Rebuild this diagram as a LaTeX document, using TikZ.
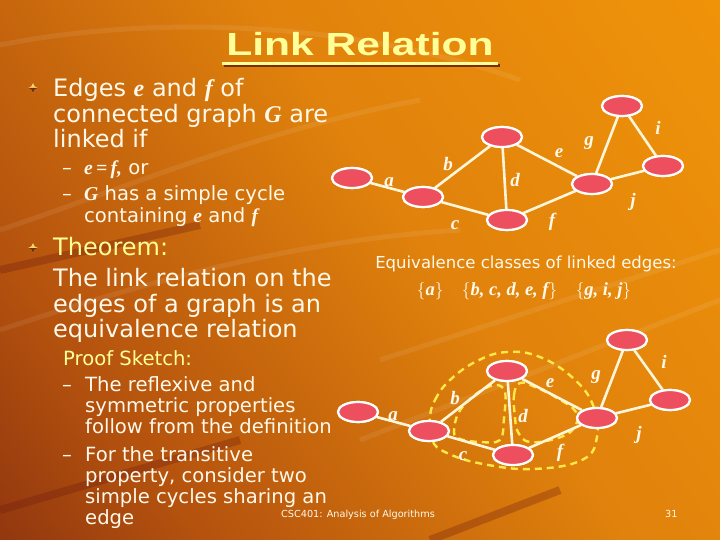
\documentclass[tikz,border=0pt]{standalone}
\usepackage{fontspec}
\usepackage{graphicx}
\setmainfont{DejaVu Sans}
\newfontfamily\mifont{Liberation Serif}
\newfontfamily\titlefont{Liberation Sans}
\usetikzlibrary{shapes.geometric}
\definecolor{txt}{HTML}{FFF9EA}
\definecolor{ylw}{HTML}{FFFF99}
\definecolor{nodered}{HTML}{EE4F5E}
\definecolor{edgec}{HTML}{FFF6DA}
\definecolor{dash}{HTML}{FFE94A}
\definecolor{bgdark}{HTML}{6A1810}
\definecolor{bgmid}{HTML}{B4520E}
\definecolor{bgmid2}{HTML}{E0820C}
\definecolor{bgbright}{HTML}{F89C08}
\definecolor{tshadow}{HTML}{7A2E00}
\definecolor{gold}{HTML}{F6D66A}
\pgfdeclarehorizontalshading{bgshade}{100bp}{color(0bp)=(bgdark); color(28bp)=(bgmid); color(55bp)=(bgmid2); color(100bp)=(bgbright)}
\newcommand\mv[1]{{\mifont\bfseries\itshape #1}}
\newcommand\bodysize{\fontsize{24}{26}\selectfont}
\newcommand\subsize{\fontsize{19.6}{22}\selectfont}
\newcommand\titletext{\titlefont\bfseries\fontsize{32}{32}\selectfont\scalebox{1.33}[1]{Link Relation}}
\tikzset{
  vtx/.style={ellipse, draw=white, line width=2.2pt, fill=nodered, minimum width=40pt, minimum height=20pt, inner sep=0pt},
  edg/.style={draw=edgec, line width=2.6pt},
  elab/.style={text=txt, font=\fontsize{19}{19}\mifont\bfseries\itshape, inner sep=0pt},
  ln/.style={anchor=base west, inner sep=0pt, text=txt},
  dsh/.style={draw=dash, line width=2.4pt, dash pattern=on 7pt off 5pt}
}
\begin{document}
\begin{tikzpicture}[x=1pt,y=-1pt]
\useasboundingbox (0,0) rectangle (720,540);
% background
\shade[shading=bgshade, shading angle=35] (0,0) rectangle (720,540);
\begin{scope}[draw=white, line width=5pt, opacity=0.08]
  \draw (0,45) .. controls (150,15) and (350,20) .. (520,80);
  \draw (0,230) .. controls (120,190) and (260,130) .. (420,100);
  \draw (0,330) .. controls (150,280) and (300,240) .. (460,230);
  \draw (360,440) -- (720,300);
  \draw (380,360) -- (720,250);
\end{scope}
\begin{scope}[draw=bgdark, line width=8pt, opacity=0.3]
  \draw (0,510) -- (240,440);
  \draw (430,540) -- (560,490);
  \draw (0,270) -- (200,225);
\end{scope}
% title
\node[inner sep=0pt, anchor=base, text=ylw] (title) at (360,56) {\titletext};
\fill[tshadow] (224,64) rectangle (500,67);
\fill[ylw] (222,62) rectangle (498,65);
% bullets
\foreach \by in {88,248} {
  \fill[gold] (33,\by-5) -- (34.6,\by-1.6) -- (38,\by) -- (34.6,\by+1.6) -- (33,\by+5) -- (31.4,\by+1.6) -- (28,\by) -- (31.4,\by-1.6) -- cycle;
  \fill[tshadow] (33,\by) -- (38,\by) -- (34.6,\by+1.6) -- (33,\by+5) -- (31.4,\by+1.6) -- (28,\by) -- cycle;
}
% text column
\node[ln] (l1) at (53,97) {\bodysize Edges \mv{e} and \mv{f} of};
\node[ln] (l2) at (53,122.5) {\bodysize connected graph \mv{G} are};
\node[ln] (l3) at (53,148) {\bodysize linked if};
\node[ln] (d1) at (62,175) {\subsize –};
\node[ln] (l4) at (84,175) {\subsize \mv{e\,=\,f,} or};
\node[ln] (d2) at (62,200.7) {\subsize –};
\node[ln] (l5) at (84,200.7) {\subsize \mv{G} has a simple cycle};
\node[ln] (l6) at (84,222.7) {\subsize containing \mv{e} and \mv{f}};
\node[ln, text=ylw] (th) at (53,255) {\bodysize Theorem:};
\node[ln] (t1) at (53,286.5) {\bodysize The link relation on the};
\node[ln] (t2) at (53,312) {\bodysize edges of a graph is an};
\node[ln] (t3) at (53,337.5) {\bodysize equivalence relation};
\node[ln, text=ylw] (ps) at (63,365) {\subsize Proof Sketch:};
\node[ln] (d3) at (62,391.5) {\subsize –};
\node[ln] (p1) at (85,391.5) {\subsize The reflexive and};
\node[ln] (p2) at (85,412) {\subsize symmetric properties};
\node[ln] (p3) at (85,433) {\subsize follow from the definition};
\node[ln] (d4) at (62,461.5) {\subsize –};
\node[ln] (p4) at (85,461.5) {\subsize For the transitive};
\node[ln] (p5) at (85,482) {\subsize property, consider two};
\node[ln] (p6) at (85,503) {\subsize simple cycles sharing an};
\node[ln] (p7) at (85,524) {\subsize edge};
% equivalence classes
\node[inner sep=0pt, anchor=base, text=txt] (eq1) at (526,268) {\fontsize{16.5}{18}\selectfont Equivalence classes of linked edges:};
\node[inner sep=0pt, anchor=base, text=txt] (eq2) at (524,295) {\fontsize{18.5}{18}\mifont\bfseries $\{$\mv{a}$\}$\quad$\{$\mv{b, c, d, e, f}$\}$\quad$\{$\mv{g, i, j}$\}$};
% footer
\node[ln, text=txt] (foot) at (281,517) {\fontsize{9.7}{10}\selectfont CSC401: Analysis of Algorithms};
\node[ln, text=txt] (pg) at (665,517) {\fontsize{9.7}{10}\selectfont 31};
% top graph
\node[vtx] (A) at (352,178) {};
\node[vtx] (B) at (423,197) {};
\node[vtx] (C) at (502,137) {};
\node[vtx] (D) at (507,220) {};
\node[vtx] (E) at (592,184) {};
\node[vtx] (F) at (622,106) {};
\node[vtx] (G) at (663,166) {};
\draw[edg] (A) -- (B); \draw[edg] (B) -- (C); \draw[edg] (B) -- (D);
\draw[edg] (C) -- (D); \draw[edg] (C) -- (E); \draw[edg] (D) -- (E);
\draw[edg] (E) -- (F); \draw[edg] (F) -- (G); \draw[edg] (E) -- (G);
\foreach \p in {{352,178},{423,197},{502,137},{507,220},{592,184},{622,106},{663,166}} {\node[vtx] at (\p) {};}
\node[elab] (la) at (389,182) {a};
\node[elab] (lb) at (448,164) {b};
\node[elab] (lc) at (455,225) {c};
\node[elab] (ld) at (515,180) {d};
\node[elab] (le) at (559,153) {e};
\node[elab] (lf) at (552,222) {f};
\node[elab] (lg) at (589,143) {g};
\node[elab] (li) at (658,128) {i};
\node[elab] (lj) at (633,202) {j};
% bottom graph dashed cycles
\draw[dsh] plot[smooth cycle, tension=0.7] coordinates {(430,418) (435,400) (450,380) (477,361) (507,352) (540,357) (573,378) (593,405) (597,437) (582,460) (533,469) (483,464) (447,453) (432,440)};
\draw[dsh] plot[smooth cycle, tension=0.6] coordinates {(454,432) (459,412) (476,394) (495,385) (505,392) (504,418) (500,440) (480,442) (460,439)};
\draw[dsh] plot[smooth cycle, tension=0.7] coordinates {(515,417) (514,395) (520,383) (535,387) (557,398) (576,412) (574,428) (558,438) (530,442) (518,432)};
\node[vtx] (A2) at (358,412) {};
\node[vtx] (B2) at (429,431) {};
\node[vtx] (C2) at (507,371) {};
\node[vtx] (D2) at (513,455) {};
\node[vtx] (E2) at (597,418) {};
\node[vtx] (F2) at (627,340) {};
\node[vtx] (G2) at (670,400) {};
\draw[edg] (A2) -- (B2); \draw[edg] (B2) -- (C2); \draw[edg] (B2) -- (D2);
\draw[edg] (C2) -- (D2); \draw[edg] (C2) -- (E2); \draw[edg] (D2) -- (E2);
\draw[edg] (E2) -- (F2); \draw[edg] (F2) -- (G2); \draw[edg] (E2) -- (G2);
\foreach \p in {{358,412},{429,431},{507,371},{513,455},{597,418},{627,340},{670,400}} {\node[vtx] at (\p) {};}
\node[elab] (la2) at (393,416) {a};
\node[elab] (lb2) at (455,398) {b};
\node[elab] (lc2) at (463,456) {c};
\node[elab] (ld2) at (523,416) {d};
\node[elab] (le2) at (550,383) {e};
\node[elab] (lf2) at (560,453) {f};
\node[elab] (lg2) at (596,377) {g};
\node[elab] (li2) at (664,362) {i};
\node[elab] (lj2) at (639,435) {j};
\end{tikzpicture}
\end{document}
